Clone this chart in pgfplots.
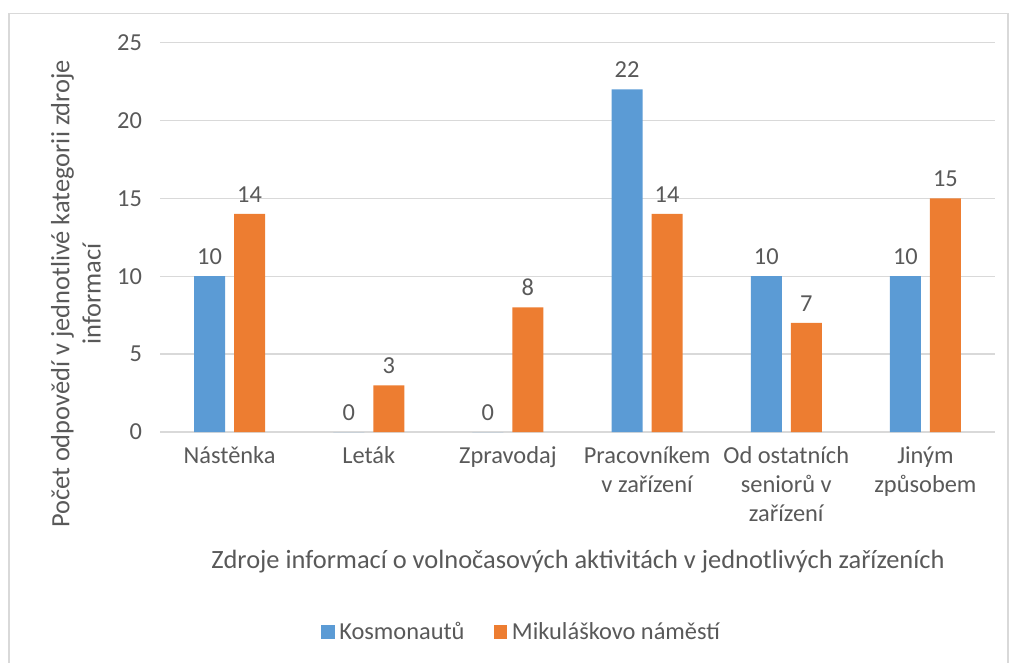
\documentclass[border=0pt]{standalone}
\usepackage{pgfplots}
\pgfplotsset{compat=1.18}
\usepackage{fontspec}
\setmainfont{Carlito}
\definecolor{cblue}{HTML}{5B9BD5}
\definecolor{corange}{HTML}{ED7D31}
\definecolor{cgrid}{HTML}{D9D9D9}
\definecolor{ctext}{HTML}{595959}
\newcommand{\tickfont}{\fontsize{18.3pt}{21.75pt}\selectfont}
\newcommand{\titlefont}{\fontsize{19.8pt}{23.5pt}\selectfont}
\begin{document}
\begin{tikzpicture}[x=0.75pt,y=0.75pt]
\useasboundingbox (0,0) rectangle (1009,662);
\draw[cgrid,line width=1.2pt] (9,-2) -- (9,648.5) -- (1008,648.5) -- (1008,-2);
\begin{axis}[
  at={(120pt,172.5pt)}, anchor=south west,
  scale only axis, width=626.25pt, height=292.1pt,
  ymin=0, ymax=25, ytick={0,5,...,25},
  xmin=-0.5, xmax=5.5, xtick=data,
  xticklabels={Nástěnka,Leták,Zpravodaj,{Pracovníkem\\v zařízení},{Od ostatních\\seniorů v\\zařízení},{Jiným\\způsobem}},
  xticklabel style={align=center, text=ctext, font=\tickfont, yshift=-3pt},
  yticklabel style={text=ctext, font=\tickfont, xshift=-10pt},
  /pgf/number format/assume math mode=true,
  axis line style={draw=none}, major tick style={draw=none},
  ymajorgrids, major grid style={cgrid, line width=1pt},
  ybar=6.75pt, bar width=23.25pt,
  nodes near coords,
  every node near coord/.append style={text=ctext, font=\tickfont, yshift=5pt},
  legend style={at={(0.4335,-0.5135)}, anchor=center, draw=none, legend columns=2,
    font=\tickfont, text=ctext,
    /tikz/every odd column/.append style={column sep=1.5pt},
    /tikz/every even column/.append style={column sep=20pt}},
  legend image code/.code={\fill[#1] (0pt,-5pt) rectangle (10pt,5pt);},
]
\addplot[fill=cblue, draw=none] coordinates {(0,10) (1,0) (2,0) (3,22) (4,10) (5,10)};
\addplot[fill=corange, draw=none] coordinates {(0,14) (1,3) (2,8) (3,14) (4,7) (5,15)};
\legend{Kosmonautů, Mikuláškovo náměstí}
\end{axis}
\node[text=ctext, anchor=center, font=\titlefont] at (578,100) {Zdroje informací o volnočasových aktivitách v jednotlivých zařízeních};
\node[text=ctext, anchor=center, rotate=90, align=center, font=\titlefont] at (76,368) {Počet odpovědí v jednotlivé kategorii zdroje\\informací};
\end{tikzpicture}
\end{document}
